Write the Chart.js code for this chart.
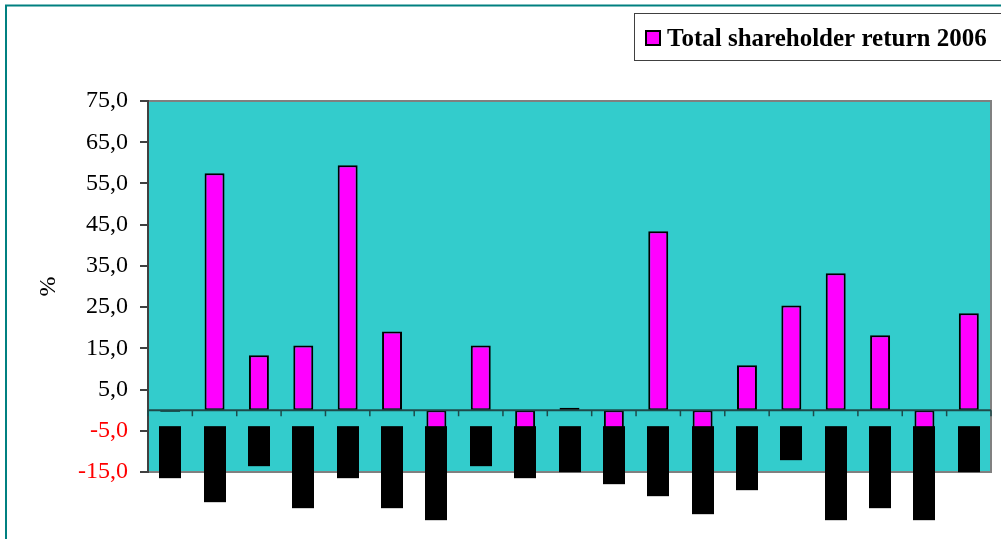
<!DOCTYPE html>
<html><head><meta charset="utf-8">
<script src="https://cdn.jsdelivr.net/npm/chart.js@4/dist/chart.umd.min.js"></script>
<style>html,body{margin:0;padding:0;background:#fff;}#wrap{width:1001px;height:539px;position:relative;}</style>
</head><body><div id="wrap"><canvas id="c" width="1001" height="539"></canvas></div>
<script>
// Category labels are illegible (blacked out) in the reference; placeholders of matching length
const categories = ["Alfa ASA","Bravo Energi","Cobalt","Delta Telecom","Echo ASA","Foxtrot Hydro","Golf Industrier","Hotell","India AB","Juliett","Kilo Bank","Lima Marine","Mike Aluminium","Nova Media","Oscar","Papa Renewables","Quebec Forest","Romeo Solutions","Sanitas"];
const tsr2006 = [-0.4, 57.5, 13.3, 15.7, 59.4, 19.1, -5.0, 15.7, -5.0, 0.6, -4.5, 43.4, -5.0, 10.9, 25.4, 33.2, 18.2, -5.0, 23.5];
const yTicks = [-15, -5, 5, 15, 25, 35, 45, 55, 65, 75];
const seriesName = "Total shareholder return 2006";
const yTitle = "%";

const fmt = v => v.toFixed(1).replace('.', ',');

const decor = {
  id: 'decor',
  beforeDraw(chart) {
    const ctx = chart.ctx, a = chart.chartArea;
    ctx.save();
    ctx.fillStyle = '#fff';
    ctx.fillRect(0, 0, chart.width, chart.height);
    // outer frame (clipped at right/bottom)
    ctx.strokeStyle = '#008080';
    ctx.lineWidth = 2;
    ctx.beginPath();
    ctx.moveTo(6, chart.height); ctx.lineTo(6, 5.5); ctx.lineTo(chart.width, 5.5);
    ctx.stroke();
    // plot area
    ctx.fillStyle = '#33CCCC';
    ctx.fillRect(a.left, a.top, a.right - a.left, a.bottom - a.top);
    ctx.strokeStyle = '#808080';
    ctx.lineWidth = 2;
    ctx.beginPath();
    ctx.moveTo(a.left, a.top); ctx.lineTo(a.right, a.top); ctx.lineTo(a.right, a.bottom); ctx.lineTo(a.left, a.bottom);
    ctx.stroke();
    // legend
    ctx.fillStyle = '#fff';
    ctx.fillRect(634, 13, 400, 48);
    ctx.strokeStyle = '#404040';
    ctx.lineWidth = 1;
    ctx.strokeRect(634.5, 13.5, 400, 47);
    ctx.fillStyle = '#FF00FF';
    ctx.fillRect(646, 31, 14, 14);
    ctx.strokeStyle = '#000';
    ctx.lineWidth = 2;
    ctx.strokeRect(646, 31, 14, 14);
    ctx.fillStyle = '#000';
    ctx.font = 'bold 25px "Liberation Serif"';
    ctx.textBaseline = 'alphabetic';
    ctx.textAlign = 'left';
    ctx.fillText(seriesName, 667, 46);
    ctx.restore();
  },
  afterDatasetsDraw(chart) {
    const ctx = chart.ctx, a = chart.chartArea;
    const x = chart.scales.x, y = chart.scales.y;
    const y0 = y.getPixelForValue(0);
    ctx.save();
    // zero line with category-boundary ticks
    ctx.strokeStyle = '#1e4a4a';
    ctx.lineWidth = 2;
    ctx.beginPath();
    ctx.moveTo(a.left, y0); ctx.lineTo(a.right, y0);
    ctx.stroke();
    ctx.lineWidth = 1.5;
    ctx.beginPath();
    for (let i = 0; i <= categories.length; i++) {
      let bx;
      if (i === 0) bx = a.left;
      else if (i === categories.length) bx = a.right;
      else bx = (x.getPixelForValue(i - 1) + x.getPixelForValue(i)) / 2;
      ctx.moveTo(bx, y0); ctx.lineTo(bx, y0 + 6);
    }
    ctx.stroke();
    // category labels (blacked out as in the reference)
    ctx.font = '10px "Liberation Mono"';
    categories.forEach((lab, i) => {
      const cx = x.getPixelForValue(i);
      const h = ctx.measureText(lab).width + 4;
      const top = y0 + 16;
      ctx.fillStyle = '#000';
      ctx.fillRect(Math.round(cx - 11), top, 22, h);
      ctx.save();
      ctx.translate(cx, top + 2);
      ctx.rotate(Math.PI / 2);
      ctx.textBaseline = 'middle';
      ctx.textAlign = 'left';
      ctx.fillStyle = '#000';
      ctx.fillText(lab, 0, 0);
      ctx.restore();
    });
    ctx.restore();
  }
};

new Chart(document.getElementById('c'), {
  type: 'bar',
  data: {
    labels: categories,
    datasets: [{
      label: seriesName,
      data: tsr2006,
      backgroundColor: '#FF00FF',
      borderColor: '#000',
      borderWidth: 2,
      borderSkipped: false,
      barPercentage: 0.45,
      categoryPercentage: 1.0
    }]
  },
  options: {
    responsive: false,
    animation: false,
    devicePixelRatio: 1,
    layout: { padding: { left: 0, right: 10, top: 101, bottom: 67 } },
    plugins: { legend: { display: false }, tooltip: { enabled: false } },
    scales: {
      x: { type: 'category', display: false, offset: true },
      y: {
        min: -15, max: 75,
        afterBuildTicks: s => { s.ticks = yTicks.map(v => ({ value: v })); },
        afterFit: s => { s.width = 148; },
        grid: { drawOnChartArea: false, drawTicks: true, tickLength: 8, color: '#404040', lineWidth: 2 },
        border: { display: true, color: '#404040', width: 2 },
        ticks: {
          padding: 12,
          font: { family: '"Liberation Serif"', size: 24 },
          color: c => (c.tick && c.tick.value < 0) ? '#FF0000' : '#000000',
          callback: v => fmt(v)
        },
        title: {
          display: true, text: yTitle, color: '#000',
          font: { family: '"Liberation Serif"', size: 24 },
          padding: { top: 34, bottom: 0 }
        }
      }
    }
  },
  plugins: [decor]
});
</script>
</body></html>
